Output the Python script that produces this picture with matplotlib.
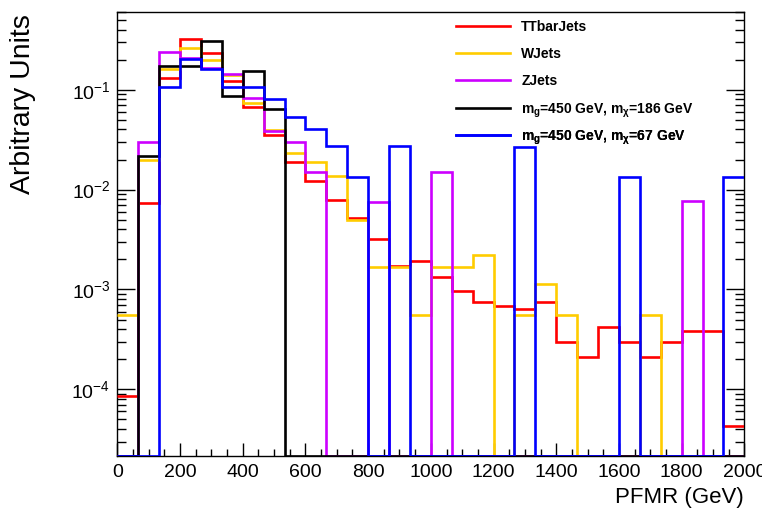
import numpy as np
import matplotlib
matplotlib.use('Agg')
import matplotlib.pyplot as plt
from matplotlib.ticker import MultipleLocator, LogLocator, NullFormatter
from matplotlib.lines import Line2D

plt.rcParams['font.family'] = ['Liberation Sans', 'DejaVu Sans']
plt.rcParams['mathtext.fontset'] = 'custom'
plt.rcParams['mathtext.rm'] = 'Liberation Sans'
plt.rcParams['mathtext.it'] = 'Liberation Sans:italic'
plt.rcParams['mathtext.bf'] = 'Liberation Sans:bold'

# 30 bins from 0 to 2000 GeV
bin_edges = np.linspace(0, 2000, 31)

ttbar = [8.6e-5, 7.4e-3, 0.131, 0.320, 0.236, 0.1225, 0.0673, 0.0355, 0.0190, 0.01225,
         7.85e-3, 5.22e-3, 3.20e-3, 1.72e-3, 1.94e-3, 1.32e-3, 9.7e-4, 7.55e-4, 6.9e-4, 6.4e-4,
         7.55e-4, 3.0e-4, 2.13e-4, 4.25e-4, 3.0e-4, 2.13e-4, 3.0e-4, 3.85e-4, 3.85e-4, 4.3e-5]
wjets = [5.6e-4, 0.0197, 0.163, 0.263, 0.199, 0.141, 0.0745, 0.0396, 0.0230, 0.0187,
         0.0137, 4.95e-3, 1.67e-3, 1.67e-3, 5.6e-4, 1.67e-3, 1.67e-3, 2.21e-3, 0, 5.6e-4,
         1.13e-3, 5.6e-4, 0, 0, 0, 5.6e-4, 0, 0, 0, 0]
zjets = [0, 0.0301, 0.241, 0.209, 0.165, 0.143, 0.0828, 0.0382, 0.0301, 0.0151,
         0, 0, 7.6e-3, 0, 0, 0.0151, 0, 0, 0, 0,
         0, 0, 0, 0, 0, 0, 0, 7.7e-3, 0, 0]
sig_186 = [0, 0.0218, 0.172, 0.172, 0.305, 0.0867, 0.153, 0.0649, 0, 0,
           0, 0, 0, 0, 0, 0, 0, 0, 0, 0,
           0, 0, 0, 0, 0, 0, 0, 0, 0, 0]
sig_67 = [0, 0, 0.1067, 0.202, 0.163, 0.1067, 0.1067, 0.0804, 0.0535, 0.0403,
          0.0272, 0.01343, 0, 0.0272, 0, 0, 0, 0, 0, 0.0268,
          0, 0, 0, 0, 0.01343, 0, 0, 0, 0, 0.01343]

labels = ['TTbarJets', 'WJets', 'ZJets',
          r'm$_{\mathbf{g}}$=450 GeV, m$_{\mathbf{χ}}$=186 GeV',
          r'm$_{\mathbf{g}}$=450 GeV, m$_{\mathbf{χ}}$=67 GeV']
colors = ['#ff0000', '#ffcc00', '#cc00ff', '#000000', '#0000ff']

ymin, ymax = 2.15e-5, 0.6

fig = plt.figure(figsize=(7.62, 5.15), dpi=100)
ax = fig.add_axes([0.154, 0.1146, 0.8228, 0.862])

handles = []
for vals, col, lab in zip([ttbar, wjets, zjets, sig_186, sig_67], colors, labels):
    v = np.array(vals, dtype=float)
    v = np.where(v > 0, v, ymin)  # empty bins sit on the axis, like ROOT
    ax.stairs(v, bin_edges, baseline=None, fill=False, color=col, linewidth=1.9, zorder=3)
    handles.append(Line2D([], [], color=col, linewidth=1.9, label=lab))

ax.set_yscale('log')
ax.set_xlim(0, 2000)
ax.set_ylim(ymin, ymax)

ax.xaxis.set_major_locator(MultipleLocator(200))
ax.xaxis.set_minor_locator(MultipleLocator(50))
ax.yaxis.set_major_locator(LogLocator(base=10, numticks=20))
ax.yaxis.set_minor_locator(LogLocator(base=10, subs=np.arange(2, 10), numticks=50))
ax.yaxis.set_minor_formatter(NullFormatter())

ax.tick_params(axis='x', which='major', direction='in', length=9.5, width=1, labelsize=14, pad=6)
ax.tick_params(axis='x', which='minor', direction='in', length=4.8, width=1)
ax.tick_params(axis='y', which='major', direction='in', length=13, width=1, labelsize=14, pad=5,
               left=True, right=True)
ax.tick_params(axis='y', which='minor', direction='in', length=6.5, width=1, left=True, right=True)
for s in ax.spines.values():
    s.set_linewidth(1.0)

fig.text(744 / 762, 1 - 503 / 515, 'PFMR (GeV)', fontsize=16, ha='right', va='baseline')
fig.text(23 / 762, 1 - 14 / 515, 'Arbitrary Units', fontsize=20.5, rotation=90, ha='center', va='top')

# one legend per row so that the rows are evenly spaced like the ROOT TLegend
leg_font = {'family': ['Liberation Sans Narrow', 'Liberation Sans'], 'weight': 'bold', 'size': 10}
for i, h in enumerate(handles):
    shift = 3 if '$' in h.get_label() else 0  # subscripts make the box taller
    row_y = 1 - (14.5 + 27 * i + shift) / 444
    leg = ax.legend(handles=[h], loc='center left', bbox_to_anchor=(0.529, row_y),
                    frameon=False, borderpad=0, handlelength=3.9, handletextpad=0.8,
                    prop=leg_font)
    ax.add_artist(leg)

plt.savefig('out.png', dpi=100)
